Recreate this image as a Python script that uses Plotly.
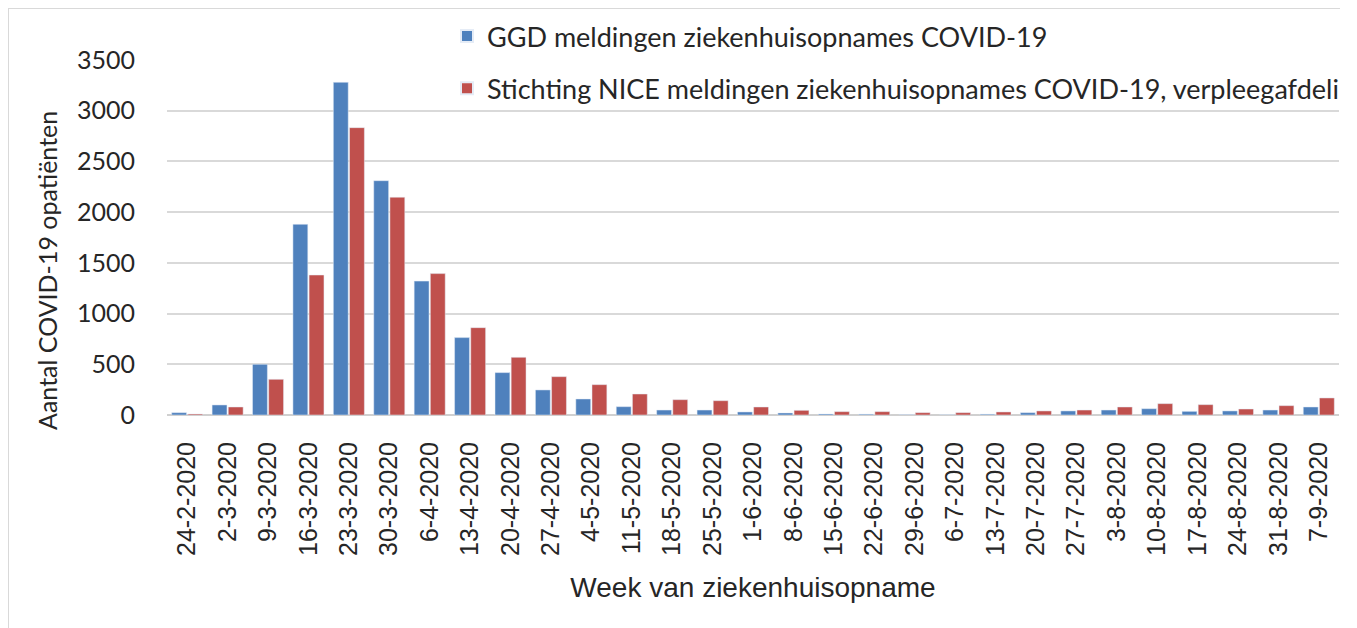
import plotly.graph_objects as go

weeks = ["24-2-2020", "2-3-2020", "9-3-2020", "16-3-2020", "23-3-2020", "30-3-2020",
         "6-4-2020", "13-4-2020", "20-4-2020", "27-4-2020", "4-5-2020", "11-5-2020",
         "18-5-2020", "25-5-2020", "1-6-2020", "8-6-2020", "15-6-2020", "22-6-2020",
         "29-6-2020", "6-7-2020", "13-7-2020", "20-7-2020", "27-7-2020", "3-8-2020",
         "10-8-2020", "17-8-2020", "24-8-2020", "31-8-2020", "7-9-2020"]
ggd = [23, 99, 500, 1880, 3280, 2310, 1320, 763, 418, 247, 158, 82, 49, 49, 30, 20,
       10, 8, 3, 2, 8, 23, 40, 49, 62, 36, 40, 49, 79]
nice = [10, 79, 352, 1380, 2833, 2147, 1394, 861, 569, 378, 299, 207, 151, 141, 79, 46,
        33, 33, 23, 23, 30, 40, 49, 79, 112, 102, 59, 92, 168]
y_ticks = [0, 500, 1000, 1500, 2000, 2500, 3000, 3500]

name_ggd = "GGD meldingen ziekenhuisopnames COVID-19"
name_nice = "Stichting NICE meldingen ziekenhuisopnames COVID-19, verpleegafdeling"
y_title = "Aantal COVID-19 opatiënten"
x_title = "Week van ziekenhuisopname"

# page has an 8px body margin; figure coordinates below are in svg pixels
W, H = 1332, 620
L, R, T, B = 159, 1, 52, 213
pw, ph = W - L - R, H - T - B


def px_x(p):
    return (p - L) / pw


def px_y(p):
    return (H - B - p) / ph


fig = go.Figure()
fig.add_trace(go.Bar(x=weeks, y=ggd, name=name_ggd, marker_color="#4F81BD",
                     legendgroup="a"))
fig.add_trace(go.Bar(x=weeks, y=nice, name=name_nice, marker_color="#C0504D",
                     legendgroup="b"))

frame = dict(type="line", xref="paper", yref="paper",
             line=dict(color="#d9d9d9", width=2), layer="below")
fig.add_shape(x0=px_x(0), x1=px_x(W + 5), y0=px_y(0), y1=px_y(0), **frame)
fig.add_shape(x0=px_x(0), x1=px_x(0), y0=px_y(0), y1=px_y(H + 5), **frame)

fig.add_annotation(text=y_title, textangle=-90, xref="paper", yref="paper",
                   x=px_x(39), y=px_y(263), xanchor="center", yanchor="middle",
                   showarrow=False,
                   font=dict(family="Lato", size=25, color="#262626"))

fig.update_layout(
    width=W, height=H,
    margin=dict(l=L, r=R, t=T, b=B, autoexpand=False),
    paper_bgcolor="white", plot_bgcolor="white",
    barmode="group", bargap=0.2, bargroupgap=0.08,
    font=dict(family="Lato", color="#262626"),
    legend=dict(x=px_x(439), y=px_y(4), xanchor="left", yanchor="top",
                bgcolor="rgba(0,0,0,0)", font=dict(family="Lato", size=27, color="#262626"),
                tracegroupgap=14, itemsizing="constant"),
    xaxis=dict(
        tickangle=-90, tickfont=dict(family="Liberation Sans", size=25, color="#262626"),
        ticks="outside", ticklen=16, tickcolor="rgba(0,0,0,0)",
        showgrid=False, showline=False,
        title=dict(text=x_title,
                   font=dict(family="Liberation Sans", size=28, color="#262626"),
                   standoff=22),
    ),
    yaxis=dict(
        range=[0, 3500], tickvals=y_ticks,
        tickfont=dict(family="Lato", size=25, color="#262626"),
        ticks="outside", ticklen=26, tickcolor="rgba(0,0,0,0)",
        showgrid=True, gridcolor="#d9d9d9", gridwidth=1.5,
        zeroline=True, zerolinecolor="#d0d0d0", zerolinewidth=2,
    ),
)

fig.write_html("out.html")
